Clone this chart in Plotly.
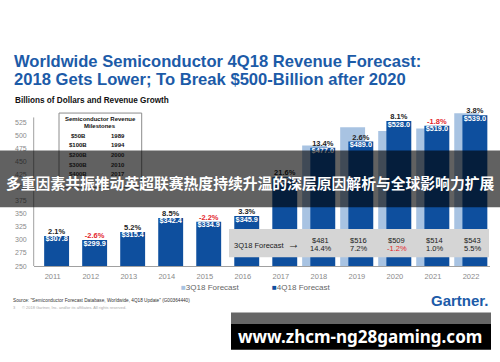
import plotly.graph_objects as go

# ---------------- data ----------------
years = [2011, 2012, 2013, 2014, 2015, 2016, 2017, 2018, 2019, 2020, 2021, 2022]
q4_values = [307.8, 299.9, 315.4, 342.4, 334.9, 345.9, 420.4, 477.0, 489.0, 528.0, 519.0, 539.0]
q4_growth = ["2.1%", "-2.6%", "5.2%", "8.5%", "-2.2%", "3.3%", "21.6%", "13.4%", "2.6%", "8.1%", "-1.8%", "3.8%"]

q3_years = [2018, 2019, 2020, 2021, 2022]
q3_values = [481, 516, 509, 514, 543]
q3_growth = ["14.4%", "7.2%", "-1.2%", "1.0%", "5.5%"]

milestone_values = ["$50B", "$100B", "$200B", "$300B", "$400B"]
milestone_years = ["1989", "1994", "2000", "2010", "2017"]

y_ticks = [250, 275, 300, 325, 350, 375, 400, 425, 450, 475, 500, 525]

# ---------------- styles ----------------
W, H = 500, 362
DARK = "#0e4f9e"
LIGHT = "#a8c3e2"
RED = "#e3262c"
BLUE_TITLE = "#1c5ba8"
FONT = "Liberation Sans, Arial, sans-serif"


def px(x):
    return x / W


def py(y):
    return 1 - y / H


X0, X1 = 33.7, 490.0          # plot area in pixels
YB, YT = 268.3, 107.9
Y_RANGE = [250, 555]

DARK_OFF, LIGHT_OFF, BW = -0.225, -0.44, 0.655
dark_center = DARK_OFF + BW / 2


def neg_color(s, pos="#222222"):
    return RED if s.startswith("-") else pos


def ann(x, y, text, size, color="#111", weight="normal", family=FONT,
        xanchor="center", xref="paper"):
    return dict(xref=xref, yref="paper", x=x if xref != "paper" else px(x), y=py(y),
                xanchor=xanchor, yanchor="middle", text=text, showarrow=False,
                font=dict(family=family, size=size, color=color, weight=weight))


fig = go.Figure()

fig.add_trace(go.Bar(
    x=q3_years, y=q3_values, name="3Q18 Forecast",
    marker=dict(color=LIGHT, line=dict(width=0)),
    width=BW, offset=LIGHT_OFF, showlegend=False, hoverinfo="x+y",
))
fig.add_trace(go.Bar(
    x=years, y=q4_values, name="4Q18 Forecast",
    marker=dict(color=DARK, line=dict(width=0)),
    width=BW, offset=DARK_OFF, showlegend=False, hoverinfo="x+y",
))

label_x = [yr + dark_center for yr in years]
fig.add_trace(go.Scatter(
    x=label_x, y=q4_values, mode="text", text=q4_growth,
    textposition="top center",
    textfont=dict(family=FONT, size=7.5, weight="bold",
                  color=[neg_color(s) for s in q4_growth]),
    showlegend=False, hoverinfo="skip", cliponaxis=False,
))
fig.add_trace(go.Scatter(
    x=label_x, y=q4_values, mode="text",
    text=["$%.1f" % v for v in q4_values],
    textposition="bottom center",
    textfont=dict(family=FONT, size=7.3, weight="bold", color="white"),
    showlegend=False, hoverinfo="skip", cliponaxis=False,
))

shapes = []
annotations = []

# y axis line
shapes.append(dict(type="line", xref="paper", yref="y", x0=px(X0), x1=px(X0),
                   y0=250, y1=535, line=dict(color="#a0a0a0", width=1), layer="below"))

# milestone box
shapes.append(dict(type="rect", xref="paper", yref="paper",
                   x0=px(59), x1=px(141.7), y0=py(189), y1=py(114),
                   line=dict(color="#8c8c8c", width=1), fillcolor="white", layer="above"))
annotations.append(ann(100.3, 119.5, "Semiconductor Revenue", 6, weight="bold"))
annotations.append(ann(100.3, 127.3, "Milestones", 6, weight="bold"))
for i, (mv, my) in enumerate(zip(milestone_values, milestone_years)):
    yy = 137 + i * 9.7
    annotations.append(ann(78, yy, mv, 6, weight="bold"))
    annotations.append(ann(118, yy, my, 6, weight="bold"))

# 3Q18 forecast table box
shapes.append(dict(type="rect", xref="paper", yref="paper",
                   x0=px(229), x1=px(489), y0=py(259.5), y1=py(231),
                   line=dict(width=0), fillcolor="#d5d5d5", layer="above"))
annotations.append(ann(232.3, 245.7, "3Q18 Forecast  <span style='font-size:12px'>→</span>",
                       7.5, color="#1a1a1a", xanchor="left"))
for yr, v, g in zip(q3_years, q3_values, q3_growth):
    annotations.append(ann(yr + 0.05, 242.3, "$%d" % v, 7.5, color="#1a1a1a", xref="x"))
    annotations.append(ann(yr + 0.05, 250.7, g, 7.5, color=neg_color(g, "#1a1a1a"), xref="x"))

# titles
annotations.append(ann(11.7, 61.7, "Worldwide Semiconductor 4Q18 Revenue Forecast:", 16.6,
                       color=BLUE_TITLE, weight="bold", xanchor="left"))
annotations.append(ann(11.7, 80, "2018 Gets Lower; To Break $500-Billion after 2020", 16.6,
                       color=BLUE_TITLE, weight="bold", xanchor="left"))
annotations.append(ann(13, 101.7, "Billions of Dollars and Revenue Growth", 8.2,
                       weight="bold", xanchor="left"))

# legend
annotations.append(ann(179, 290, "<span style='color:%s'>■</span>3Q18 Forecast" % LIGHT, 8,
                       color="#666", xanchor="left"))
annotations.append(ann(270, 290, "<span style='color:%s'>■</span>4Q18 Forecast" % DARK, 8,
                       color="#666", xanchor="left"))

# footer
annotations.append(ann(11, 303.3,
                       "Source: \"Semiconductor Forecast Database, Worldwide, 4Q18 Update\" (G00364440)",
                       4.7, color="#333", xanchor="left"))
annotations.append(ann(11, 310,
                       "3      © 2018 Gartner, Inc. and/or its affiliates. All rights reserved.",
                       4, color="#aaa", xanchor="left"))
annotations.append(ann(491, 302.7, "Gartner.", 15, color=BLUE_TITLE, weight="bold", xanchor="right"))

# overlay banner
shapes.append(dict(type="rect", xref="paper", yref="paper",
                   x0=0, x1=1, y0=py(209), y1=py(151.7),
                   line=dict(width=0), fillcolor="rgba(0,0,0,0.62)", layer="above"))
annotations.append(ann(250, 184.5,
                       "多重因素共振推动英超联赛热度持续升温的深层原因解析与全球影响力扩展",
                       14.8, color="white", weight="bold", family="Noto Sans CJK SC"))

# watermark
shapes.append(dict(type="rect", xref="paper", yref="paper",
                   x0=px(231), x1=px(491), y0=py(326.7), y1=py(315),
                   line=dict(width=0), fillcolor="rgba(0,0,0,0.6)", layer="above"))
shapes.append(dict(type="rect", xref="paper", yref="paper",
                   x0=px(231), x1=px(491), y0=py(352.7), y1=py(326.7),
                   line=dict(width=0), fillcolor="#000000", layer="above"))
annotations.append(ann(360, 339.5, "www.zhcm-ng28gaming.com", 17, color="white", weight="bold",
                       family="Noto Sans, DejaVu Sans"))

fig.update_layout(
    width=W, height=H,
    margin=dict(l=0, r=0, t=0, b=0),
    paper_bgcolor="white", plot_bgcolor="white",
    barmode="overlay",
    showlegend=False,
    shapes=shapes, annotations=annotations,
    xaxis=dict(domain=[px(X0), px(X1)], range=[2010.5, 2022.5],
               tickvals=years, ticktext=[str(y) for y in years],
               showgrid=False, zeroline=False, showline=True, linecolor="#a0a0a0", linewidth=1,
               ticks="", ticklabelstandoff=3,
               tickfont=dict(family=FONT, size=7.5, color="#8a8a8a")),
    yaxis=dict(domain=[py(YB), py(YT)], range=Y_RANGE,
               tickvals=y_ticks, ticktext=[str(t) for t in y_ticks],
               showgrid=False, zeroline=False, showline=False,
               ticks="", ticklabelstandoff=6,
               tickfont=dict(family=FONT, size=7, color="#8a8a8a")),
)

fig.write_html(
    "out.html",
    config={"displayModeBar": False},
    post_script="document.body.style.margin='0';document.body.style.overflow='hidden';",
)
